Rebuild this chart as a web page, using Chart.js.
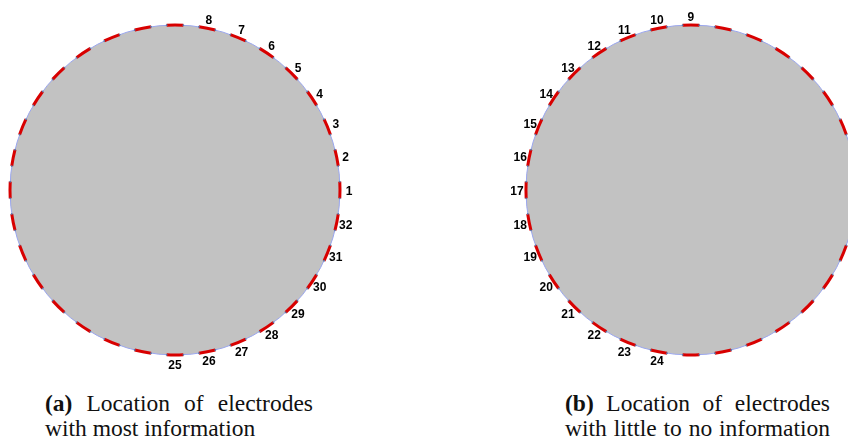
<!DOCTYPE html>
<html>
<head>
<meta charset="utf-8">
<script src="https://cdn.jsdelivr.net/npm/chart.js@4/dist/chart.umd.min.js"></script>
<style>
    body { margin: 0; background: #fff; width: 848px; height: 442px; position: relative; overflow: hidden; }
    #electrodeChart { position: absolute; left: 0; top: 0; }
    .caption { position: absolute; font-family: "Liberation Serif", "Times New Roman", serif; font-size: 23.5px; line-height: 25px; color: #111; white-space: nowrap; }
    .caption .line1 { text-align: justify; text-align-last: justify; }
    .caption.b .line2 { text-align: justify; text-align-last: justify; }
</style>
</head>
<body>
<canvas id="electrodeChart" width="848" height="380"></canvas>
<div class="caption a" style="left:45px; top:391px; width:268px;">
    <div class="line1"><b>(a)</b> Location of electrodes</div>
    <div class="line2">with most information</div>
</div>
<div class="caption b" style="left:565px; top:391px; width:265px;">
    <div class="line1"><b>(b)</b> Location of electrodes</div>
    <div class="line2">with little to no information</div>
</div>
<script>
// Electrode ring: 32 electrodes, numbered counter-clockwise from the right
const NUM_ELECTRODES = 32;
const mostInfo = [1, 2, 3, 4, 5, 6, 7, 8, 25, 26, 27, 28, 29, 30, 31, 32];
const littleInfo = [9, 10, 11, 12, 13, 14, 15, 16, 17, 18, 19, 20, 21, 22, 23, 24];

// Layout (in units of circle radius)
const panelCenters = [0, 3.127];
const labelRadius = 174 / 165;
const electrodeHalfWidth = 2.9 * Math.PI / 180;

function electrodeAngle(id) {
    return (id - 1) * 2 * Math.PI / NUM_ELECTRODES;
}

// Build label anchor points for one panel
function labelPoints(ids, cx) {
    return ids.map(id => {
        const a = electrodeAngle(id);
        return { x: cx + labelRadius * Math.cos(a), y: labelRadius * Math.sin(a), id: id };
    });
}

const electrodePlugin = {
    id: 'electrodes',
    beforeDatasetsDraw(chart) {
        const { ctx, scales: { x, y } } = chart;
        const rPx = x.getPixelForValue(1) - x.getPixelForValue(0);
        const cy = y.getPixelForValue(0);

        panelCenters.forEach(c => {
            const cx = x.getPixelForValue(c);
            ctx.save();
            // disc
            ctx.beginPath();
            ctx.arc(cx, cy, rPx, 0, Math.PI * 2);
            ctx.fillStyle = '#c2c2c2';
            ctx.fill();
            ctx.strokeStyle = '#9aa6ee';
            ctx.lineWidth = 1;
            ctx.stroke();

            // electrodes
            ctx.strokeStyle = '#d80000';
            ctx.lineWidth = 3;
            ctx.lineCap = 'butt';
            for (let k = 1; k <= NUM_ELECTRODES; k++) {
                const a = -electrodeAngle(k);
                ctx.beginPath();
                ctx.arc(cx, cy, rPx, a - electrodeHalfWidth, a + electrodeHalfWidth);
                ctx.stroke();
            }

            // small end marks
            ctx.fillStyle = '#5b78a8';
            for (let k = 1; k <= NUM_ELECTRODES; k++) {
                const a = -electrodeAngle(k);
                [a - electrodeHalfWidth, a + electrodeHalfWidth].forEach(e => {
                    ctx.beginPath();
                    ctx.arc(cx + rPx * Math.cos(e), cy + rPx * Math.sin(e), 0.9, 0, Math.PI * 2);
                    ctx.fill();
                });
            }
            ctx.restore();
        });
    },
    afterDatasetsDraw(chart) {
        const { ctx } = chart;
        ctx.save();
        ctx.font = 'bold 12px "Liberation Sans", Arial, sans-serif';
        ctx.fillStyle = '#000';
        ctx.textAlign = 'center';
        ctx.textBaseline = 'middle';
        chart.data.datasets.forEach((ds, i) => {
            const meta = chart.getDatasetMeta(i);
            meta.data.forEach((pt, j) => {
                ctx.fillText(String(ds.data[j].id), pt.x, pt.y + 1.5);
            });
        });
        ctx.restore();
    }
};

const ctx = document.getElementById('electrodeChart');
new Chart(ctx, {
    type: 'scatter',
    data: {
        datasets: [
            { label: 'most information', data: labelPoints(mostInfo, panelCenters[0]), pointRadius: 0 },
            { label: 'little to no information', data: labelPoints(littleInfo, panelCenters[1]), pointRadius: 0 }
        ]
    },
    options: {
        responsive: false,
        animation: false,
        events: [],
        layout: { padding: 0 },
        plugins: {
            legend: { display: false },
            tooltip: { enabled: false }
        },
        scales: {
            x: { type: 'linear', min: -175 / 165, max: 673 / 165, display: false },
            y: { type: 'linear', min: -190 / 165, max: 190 / 165, display: false }
        }
    },
    plugins: [electrodePlugin]
});
</script>
</body>
</html>
